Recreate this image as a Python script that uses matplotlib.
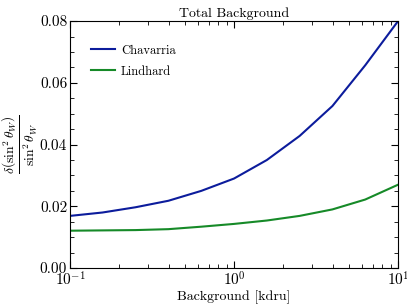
import numpy as np
import matplotlib
matplotlib.use("Agg")
import matplotlib.pyplot as plt
from matplotlib.ticker import MultipleLocator

plt.rcParams['font.family'] = 'serif'
plt.rcParams['font.serif'] = ['cmr10', 'DejaVu Serif']
plt.rcParams['mathtext.fontset'] = 'cm'
plt.rcParams['axes.formatter.use_mathtext'] = True

# background in kdru
bkg = [0.1, 0.158, 0.251, 0.398, 0.631, 1.0, 1.585, 2.512, 3.981, 6.31, 10.0]
chavarria = [0.0169, 0.0180, 0.0197, 0.0218, 0.0250, 0.0290, 0.0350, 0.0428, 0.0525, 0.0657, 0.0800]
lindhard = [0.0121, 0.0122, 0.0123, 0.0126, 0.0134, 0.0143, 0.0154, 0.0169, 0.0190, 0.0222, 0.0270]

fig = plt.figure(figsize=(4.07, 3.06), dpi=100)
ax = fig.add_axes([0.172, 0.124, 0.806, 0.807])
ax.plot(bkg, chavarria, color='#0c1c9c', lw=1.5, label='Chavarria')
ax.plot(bkg, lindhard, color='#168a28', lw=1.5, label='Lindhard')
ax.set_xscale('log')
ax.set_xlim(0.1, 10)
ax.set_ylim(0, 0.08)
ax.yaxis.set_major_locator(MultipleLocator(0.02))
ax.yaxis.set_minor_locator(MultipleLocator(0.005))
ax.yaxis.set_major_formatter(matplotlib.ticker.FormatStrFormatter('%.2f'))
ax.tick_params(which='both', direction='in', top=True, right=True, labelsize=11, pad=2)
ax.tick_params(which='major', length=5)
ax.tick_params(which='minor', length=3)
ax.set_xlabel('Background [kdru]', fontsize=10, labelpad=1)
ax.set_ylabel(r'$\frac{\delta\left(\sin^2\theta_W\right)}{\sin^2\theta_W}$', fontsize=14)
ax.yaxis.set_label_coords(-0.09, 0.5)
ax.set_title('Total Background', fontsize=10, pad=3)
ax.legend(loc='upper left', frameon=False, fontsize=9, handlelength=1.9,
          handletextpad=0.5, labelspacing=0.7, bbox_to_anchor=(0.03, 0.95))
fig.savefig('out.png', dpi=100)
